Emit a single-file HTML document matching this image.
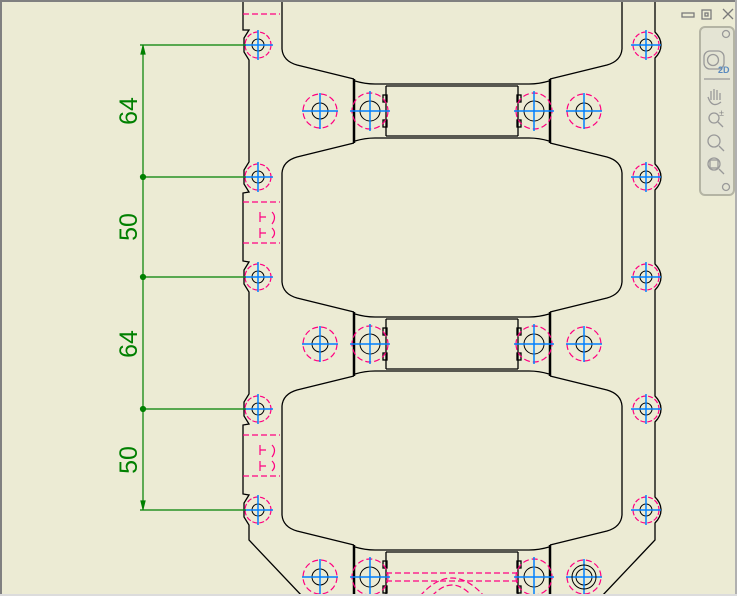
<!DOCTYPE html>
<html><head><meta charset="utf-8"><style>
html,body{margin:0;padding:0;background:#ECEBD4;}
svg{display:block}
</style></head><body>
<svg width="737" height="596" viewBox="0 0 737 596" xmlns="http://www.w3.org/2000/svg" font-family="Liberation Sans, sans-serif">
<defs>
  <g id="hs">
    <circle r="13" fill="none" stroke="#ff0080" stroke-width="1.2" stroke-dasharray="5,2"/>
    <circle r="6" fill="none" stroke="#000" stroke-width="1"/>
    <line x1="-15" y1="0" x2="15" y2="0" stroke="#0080ff" stroke-width="1.5"/>
    <line x1="0" y1="-15" x2="0" y2="15" stroke="#0080ff" stroke-width="1.5"/>
  </g>
  <g id="hm">
    <circle r="17" fill="none" stroke="#ff0080" stroke-width="1.2" stroke-dasharray="6,3"/>
    <circle r="8" fill="none" stroke="#000" stroke-width="1"/>
    <line x1="-18" y1="0" x2="18" y2="0" stroke="#0080ff" stroke-width="1.5"/>
    <line x1="0" y1="-18" x2="0" y2="18" stroke="#0080ff" stroke-width="1.5"/>
  </g>
  <g id="hb">
    <circle r="18" fill="none" stroke="#ff0080" stroke-width="1.2" stroke-dasharray="6,3"/>
    <circle r="10" fill="none" stroke="#000" stroke-width="1"/>
    <line x1="-20" y1="0" x2="20" y2="0" stroke="#0080ff" stroke-width="1.5"/>
    <line x1="0" y1="-20" x2="0" y2="20" stroke="#0080ff" stroke-width="1.5"/>
  </g>
  <g id="half" fill="none" stroke="#000" stroke-width="1.3">
    <path d="M354 -90 L297 -76 Q283 -72 282 -60 L282 49 Q283 61 297 65 L354 79"/>
    <path d="M354 143 L297 157 Q283 161 282 173 L282 282 Q283 294 297 298 L354 312"/>
    <path d="M354 376 L297 390 Q283 394 282 406 L282 515 Q283 527 297 531 L354 545"/>
    <line x1="354" y1="79" x2="354" y2="143" stroke-width="2.5"/>
    <line x1="354" y1="312" x2="354" y2="376" stroke-width="2.5"/>
    <line x1="354" y1="545" x2="354" y2="596" stroke-width="2.5"/>
    <path d="M355 81 Q365 84 375 84 L452 84 M355 141 Q365 138 375 138 L452 138"/>
    <path d="M355 314 Q365 317 375 317 L452 317 M355 374 Q365 371 375 371 L452 371"/>
    <path d="M355 547 Q365 550 375 550 L452 550"/>
    <line x1="386" y1="86" x2="452" y2="86"/><line x1="386" y1="136" x2="452" y2="136"/>
    <line x1="386" y1="319" x2="452" y2="319"/><line x1="386" y1="369" x2="452" y2="369"/>
    <line x1="386" y1="552" x2="452" y2="552"/>
    <line x1="386" y1="86" x2="386" y2="136"/><line x1="386" y1="319" x2="386" y2="369"/><line x1="386" y1="552" x2="386" y2="596"/>
    <rect x="383" y="95" width="4" height="7"/><rect x="383" y="120" width="4" height="7"/>
    <rect x="383" y="328" width="4" height="7"/><rect x="383" y="353" width="4" height="7"/>
    <rect x="383" y="561" width="4" height="7"/><rect x="383" y="586" width="4" height="7"/>
    <use href="#hm" x="320" y="111"/><use href="#hb" x="370" y="111"/>
    <use href="#hm" x="320" y="344"/><use href="#hb" x="370" y="344"/>
    <use href="#hm" x="320" y="577"/><use href="#hb" x="370" y="577"/>
  </g>
</defs>
<rect width="737" height="596" fill="#ECEBD4"/>
<use href="#half"/>
<use href="#half" transform="translate(904,0) scale(-1,1)"/>
<g fill="none" stroke="#000" stroke-width="1.3">
<path d="M243 0 L243 30 L249 30 L244 38 L244 52 L249 60 L249 162 L244 170 L244 184 L249 192 L243 193 L243 261 L249 262 L244 270 L244 284 L249 292 L249 394 L244 402 L244 416 L249 424 L243 425 L243 494 L249 495 L244 503 L244 517 L249 525 L249 540 L302 596"/>
<path d="M655 0 L655 32 Q661 38 661 45 Q661 52 655 58 L655 164 Q661 170 661 177 Q661 184 655 190 L655 264 Q661 270 661 277 Q661 284 655 290 L655 396 Q661 402 661 409 Q661 416 655 422 L655 497 Q661 503 661 510 Q661 517 655 523 L655 540 L602 596"/>
</g>
<g fill="none" stroke="#ff0080" stroke-width="1.2" stroke-dasharray="6,3">
<line x1="243" y1="14" x2="280" y2="14"/>
<line x1="243" y1="202" x2="280" y2="202"/><line x1="243" y1="243" x2="280" y2="243"/>
<line x1="243" y1="435" x2="280" y2="435"/><line x1="243" y1="476" x2="280" y2="476"/>
<path d="M260 212v10M260 217h6M260 228v10M260 233h6M272 212q5 5 0 12M272 228q5 5 0 10" stroke-dasharray="none"/>
<path d="M260 445v10M260 450h6M260 461v10M260 466h6M272 445q5 5 0 12M272 461q5 5 0 10" stroke-dasharray="none"/>
<line x1="386" y1="573" x2="518" y2="573"/><line x1="386" y1="581" x2="518" y2="581"/>
<path d="M420 596 Q452 560 484 596"/><path d="M432 596 Q452 574 472 596"/>
</g>
<circle cx="584" cy="577" r="12" fill="none" stroke="#000"/>
<use href="#hs" x="258" y="45"/><use href="#hs" x="258" y="177"/><use href="#hs" x="258" y="277"/><use href="#hs" x="258" y="409"/><use href="#hs" x="258" y="510"/>
<use href="#hs" x="646" y="45"/><use href="#hs" x="646" y="177"/><use href="#hs" x="646" y="277"/><use href="#hs" x="646" y="409"/><use href="#hs" x="646" y="510"/>
<g stroke="#008000" stroke-width="1.2" fill="#008000">
<line x1="143" y1="45" x2="143" y2="510"/>
<line x1="140" y1="45" x2="246" y2="45"/><line x1="140" y1="177" x2="246" y2="177"/><line x1="140" y1="277" x2="246" y2="277"/><line x1="140" y1="409" x2="246" y2="409"/><line x1="140" y1="510" x2="246" y2="510"/>
<circle cx="143" cy="177" r="2.5"/><circle cx="143" cy="277" r="2.5"/><circle cx="143" cy="409" r="2.5"/>
<path d="M143 46 l-2 8 h4z M143 509 l-2 -8 h4z"/>
</g>
<g fill="#008000" font-size="25" text-anchor="middle">
<text transform="translate(137,111) rotate(-90)">64</text>
<text transform="translate(137,227) rotate(-90)">50</text>
<text transform="translate(137,344) rotate(-90)">64</text>
<text transform="translate(137,460) rotate(-90)">50</text>
</g>
<rect x="0" y="0" width="737" height="2" fill="#808080"/>
<rect x="0" y="0" width="2" height="596" fill="#808080"/>
<rect x="735" y="0" width="2" height="596" fill="#b0b0b0"/>
<rect x="0" y="594" width="737" height="2" fill="#dcdcdc"/>
<g stroke="#7a7a7a" fill="none" stroke-width="1.3">
<rect x="682" y="13" width="12" height="4"/>
<rect x="702" y="10" width="9" height="9"/><rect x="705" y="13" width="3" height="3"/>
<path d="M723 9 l10 10 M733 9 l-10 10"/>
</g>
<rect x="700" y="27" width="34" height="168" rx="5" fill="#e4e4d4" stroke="#b4b4a4" stroke-width="2"/>
<g stroke="#999" fill="none" stroke-width="1.3">
<circle cx="726" cy="34" r="3.5"/>
<rect x="704" y="51" width="20" height="18" rx="6"/><circle cx="713" cy="60" r="5.5"/>
<line x1="704" y1="79" x2="730" y2="79"/>
<path d="M711 100 v-9 M714 100 v-11 M717 100 v-10 M720 100 v-7 M708 97 q4 12 13 5"/>
<circle cx="714" cy="118" r="5"/><line x1="718" y1="122" x2="723" y2="127"/>
<circle cx="714" cy="141" r="6"/><line x1="719" y1="146" x2="724" y2="151"/>
<circle cx="714" cy="164" r="6"/><rect x="710" y="160" width="8" height="8"/><line x1="719" y1="169" x2="724" y2="174"/>
<circle cx="726" cy="187" r="3.5"/>
</g>
<text x="718" y="73" font-size="9" fill="#5a8abf" font-weight="bold">2D</text>
<text x="719" y="116" font-size="9" fill="#888">±</text>
</svg>
</body></html>
